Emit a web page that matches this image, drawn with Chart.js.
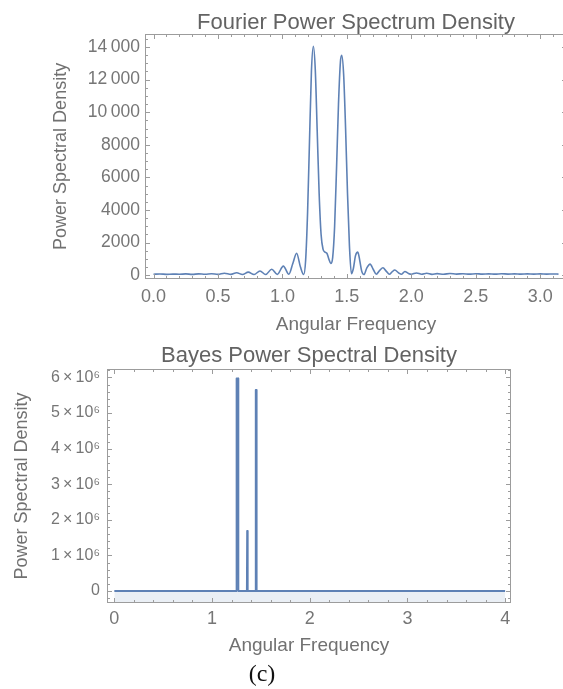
<!DOCTYPE html>
<html>
<head>
<meta charset="utf-8">
<script src="https://cdn.jsdelivr.net/npm/chart.js@4.4.1/dist/chart.umd.min.js"></script>
<style>
html, body { margin: 0; padding: 0; background: #fff; overflow: hidden; width: 563px; height: 689px; }
#fourier { position: absolute; left: 0; top: 0; }
#bayes { position: absolute; left: 0; top: 340px; }
#caption { position: absolute; left: 222px; width: 80px; top: 660px; line-height: 26px; text-align: center;
  font: 24px "Liberation Serif", "Times New Roman", serif; color: #111; }
</style>
</head>
<body>
<canvas id="fourier" width="570" height="340"></canvas>
<canvas id="bayes" width="563" height="349"></canvas>
<div id="caption">(c)</div>
<script>
//Datos

//Fourier
const fourierFreq = [0, 0.05, 0.10, 0.15, 0.20, 0.25, 0.30, 0.35, 0.40, 0.45, 0.50, 0.55, 0.60, 0.645, 0.69, 0.735, 0.78,
  0.826, 0.87, 0.917, 0.96, 1.007, 1.05, 1.08, 1.11, 1.14, 1.165, 1.18, 1.195, 1.21, 1.225, 1.24, 1.255, 1.27, 1.285,
  1.30, 1.315, 1.33, 1.345, 1.36, 1.375, 1.39, 1.405, 1.42, 1.435, 1.45, 1.46, 1.475, 1.49, 1.505, 1.52, 1.535, 1.55,
  1.567, 1.585, 1.60, 1.615, 1.632, 1.655, 1.68, 1.705, 1.728, 1.755, 1.78, 1.805, 1.83, 1.85, 1.872, 1.90, 1.925, 1.95,
  1.975, 2.00, 2.04, 2.08, 2.12, 2.16, 2.20, 2.25, 2.30, 2.35, 2.40, 2.45, 2.50, 2.55, 2.60, 2.65, 2.70, 2.75, 2.80,
  2.85, 2.90, 2.95, 3.00, 3.05, 3.10, 3.1416];
const fourierPsd = [60, 75, 55, 70, 60, 80, 55, 85, 60, 95, 55, 120, 50, 150, 45, 190, 40,
  260, 40, 370, 50, 560, 60, 700, 1350, 500, 40, 900, 3800, 8200, 12500, 14050, 12600, 8800, 5000,
  2500, 1600, 1420, 1350, 1000, 720, 1100, 3000, 6600, 10500, 13100, 13500, 12300, 9000, 5000, 1800, 100, 400,
  1200, 1420, 900, 250, 40, 450, 680, 350, 60, 300, 460, 250, 60, 200, 320, 150, 60, 230,
  120, 60, 140, 60, 120, 55, 100, 60, 110, 70, 90, 65, 95, 70, 85, 65, 90, 70, 85,
  65, 80, 70, 80, 70, 75, 70];
const fourierXTicks = [0, 0.5, 1.0, 1.5, 2.0, 2.5, 3.0];
const fourierXLabels = ['0.0', '0.5', '1.0', '1.5', '2.0', '2.5', '3.0'];
const fourierYTicks = [0, 2000, 4000, 6000, 8000, 10000, 12000, 14000];
const fourierYLabels = ['0', '2000', '4000', '6000', '8000', '10\u2009000', '12\u2009000', '14\u2009000'];

//Bayes
const bayesFreq = [0, 1.248, 1.251, 1.267, 1.270, 1.356, 1.359, 1.364, 1.367,
  1.444, 1.447, 1.454, 1.457, 4.0];
const bayesPsd = [0, 0, 5.97e6, 5.97e6, 0, 0, 1.69e6, 1.69e6, 0,
  0, 5.65e6, 5.65e6, 0, 0];
const bayesXTicks = [0, 1, 2, 3, 4];
const bayesXLabels = ['0', '1', '2', '3', '4'];
const bayesYTicks = [0, 1e6, 2e6, 3e6, 4e6, 5e6, 6e6];
const bayesYLabels = ['0', '1\u2009\u00d7\u200910\u2076', '2\u2009\u00d7\u200910\u2076', '3\u2009\u00d7\u200910\u2076',
  '4\u2009\u00d7\u200910\u2076', '5\u2009\u00d7\u200910\u2076', '6\u2009\u00d7\u200910\u2076'];

Chart.defaults.font.family = '"Liberation Sans", Arial, sans-serif';

const lineColor = '#5e81b5';
const frameColor = '#9c9c9c';
const tickColor = '#767676';

//Marco con marcas hacia adentro (estilo Mathematica)
const frameTicks = {
  id: 'frameTicks',
  afterDatasetsDraw(chart, args, opts) {
    const {ctx, chartArea: a, scales: {x, y}} = chart;
    const L = Math.round(a.left) + 0.5, R = Math.round(a.right) - 0.5;
    const T = Math.round(a.top) + 0.5, B = Math.round(a.bottom) - 0.5;
    ctx.save();
    ctx.strokeStyle = frameColor;
    ctx.lineWidth = 1;
    ctx.strokeRect(L, T, R - L, B - T);
    ctx.beginPath();
    const xMark = (v, len) => {
      const px = Math.round(x.getPixelForValue(v)) + 0.5;
      ctx.moveTo(px, B); ctx.lineTo(px, B - len);
      ctx.moveTo(px, T); ctx.lineTo(px, T + len);
    };
    const yMark = (v, len) => {
      const py = Math.round(y.getPixelForValue(v)) + 0.5;
      ctx.moveTo(L, py); ctx.lineTo(L + len, py);
      ctx.moveTo(R, py); ctx.lineTo(R - len, py);
    };
    for (let v = Math.ceil(x.min / opts.xMinor) * opts.xMinor; v <= x.max; v += opts.xMinor) xMark(v, 2.5);
    for (let v = Math.ceil(y.min / opts.yMinor) * opts.yMinor; v <= y.max; v += opts.yMinor) yMark(v, 2.5);
    opts.xMajor.forEach(v => xMark(v, 4.5));
    opts.yMajor.forEach(v => yMark(v, 4.5));
    ctx.stroke();
    ctx.restore();
  }
};

function makeChart(id, cfg) {
  return new Chart(document.getElementById(id), {
    type: 'scatter',
    data: {
      datasets: [{
        data: cfg.freq.map((f, i) => ({x: f, y: cfg.psd[i]})),
        showLine: true,
        borderColor: lineColor,
        borderWidth: cfg.lineWidth,
        borderJoinStyle: 'round',
        pointRadius: 0,
        cubicInterpolationMode: cfg.smooth ? 'monotone' : 'default',
        tension: 0,
        fill: cfg.fill ? 'start' : false,
        backgroundColor: 'rgba(94,129,181,0.13)'
      }]
    },
    options: {
      responsive: false,
      animation: false,
      layout: {padding: cfg.padding},
      plugins: {
        legend: {display: false},
        tooltip: {enabled: false},
        title: {
          display: true,
          text: cfg.title,
          fullSize: false,
          color: '#636363',
          font: {size: 22, weight: 'normal', lineHeight: 1},
          padding: cfg.titlePad
        },
        frameTicks: {xMajor: cfg.xTicks, yMajor: cfg.yTicks, xMinor: cfg.xMinor, yMinor: cfg.yMinor}
      },
      scales: {
        x: {
          type: 'linear',
          min: cfg.xMin, max: cfg.xMax,
          grid: {display: false, drawTicks: false},
          border: {display: false},
          afterBuildTicks: s => { s.ticks = cfg.xTicks.map(v => ({value: v})); },
          afterFit: s => { s.height = cfg.xHeight; },
          ticks: {
            autoSkip: false, maxRotation: 0, color: tickColor, font: {size: 18},
            padding: cfg.xTickPad,
            callback: (v, i) => cfg.xLabels[i]
          },
          title: {
            display: true, text: 'Angular Frequency', color: '#717171',
            font: {size: 19}, padding: {top: 0, bottom: cfg.xTitlePad}
          }
        },
        y: {
          type: 'linear',
          min: cfg.yMin, max: cfg.yMax,
          grid: {display: false, drawTicks: false},
          border: {display: false},
          afterBuildTicks: s => { s.ticks = cfg.yTicks.map(v => ({value: v})); },
          afterFit: s => { s.width = cfg.yWidth; },
          ticks: {
            autoSkip: false, color: tickColor, font: {size: cfg.yFont},
            padding: cfg.yTickPad,
            callback: (v, i) => cfg.yLabels[i]
          },
          title: {
            display: true, text: 'Power Spectral Density', color: '#717171',
            font: {size: 18}, padding: {top: cfg.yTitlePad, bottom: 0}
          }
        }
      }
    },
    plugins: [frameTicks]
  });
}

//Grafica Fourier
makeChart('fourier', {
  freq: fourierFreq, psd: fourierPsd, smooth: true, fill: false, lineWidth: 1.6,
  title: 'Fourier Power Spectrum Density',
  padding: {top: 11.5, left: 0, right: 3, bottom: 0},
  titlePad: {top: 0, bottom: 0},
  xMin: -0.066, xMax: 3.2076, yMin: -250, yMax: 14830,
  xTicks: fourierXTicks, xLabels: fourierXLabels, yTicks: fourierYTicks, yLabels: fourierYLabels,
  xMinor: 0.1, yMinor: 500,
  xHeight: 60.7, yWidth: 145, xTickPad: 6.5, xTitlePad: 3.6, yTickPad: 5, yTitlePad: 50, yFont: 17.5
});

//Grafica Bayes
makeChart('bayes', {
  freq: bayesFreq, psd: bayesPsd, smooth: false, fill: true, lineWidth: 1.8,
  title: 'Bayes Power Spectral Density',
  padding: {top: 5, left: 0, right: 52.3, bottom: 0},
  titlePad: {top: 0, bottom: 1.7},
  xMin: -0.072, xMax: 4.057, yMin: -0.345e6, yMax: 6.245e6,
  xTicks: bayesXTicks, xLabels: bayesXLabels, yTicks: bayesYTicks, yLabels: bayesYLabels,
  xMinor: 0.2, yMinor: 0.2e6,
  xHeight: 85.7, yWidth: 107.3, xTickPad: 5, xTitlePad: 31.6, yTickPad: 7.3, yTitlePad: 10.9, yFont: 16
});
</script>
</body>
</html>
